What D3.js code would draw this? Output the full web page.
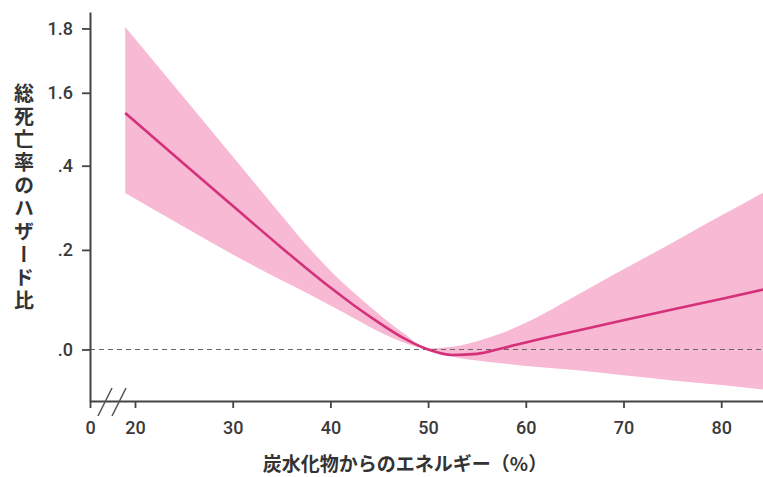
<!DOCTYPE html>
<html>
<head>
<meta charset="utf-8">
<script src="https://cdn.jsdelivr.net/npm/d3@7"></script>
<style>
  html, body { margin: 0; padding: 0; background: #fff; }
  svg { display: block; }
  .tick text { font-family: Roboto, "DejaVu Sans", sans-serif; font-weight: 500; font-size: 18px; fill: #3a3a3a; }
  .title { font-family: "Noto Sans CJK JP", sans-serif; font-weight: 700; fill: #333; }
</style>
</head>
<body>
<div id="chart"></div>
<script>
// carbohydrate share of energy (%) and hazard ratio with its band
const carbPct = [19, 25, 30, 35, 37.5, 40, 42.5, 45, 47.5, 50, 52.5, 55, 57.5, 60, 65, 70, 75, 80, 85];
const hr      = [1.542, 1.405, 1.301, 1.205, 1.161, 1.120, 1.083, 1.050, 1.021, 1.000, 0.990, 0.992, 1.002, 1.013, 1.034, 1.055, 1.076, 1.097, 1.119];
const hrUpper = [1.805, 1.586, 1.424, 1.278, 1.212, 1.155, 1.108, 1.066, 1.030, 1.002, 1.005, 1.015, 1.030, 1.050, 1.102, 1.158, 1.216, 1.278, 1.342];
const hrLower = [1.332, 1.252, 1.190, 1.135, 1.110, 1.084, 1.058, 1.033, 1.013, 0.999, 0.987, 0.980, 0.975, 0.970, 0.963, 0.954, 0.945, 0.937, 0.928];

const xTicks = [0, 20, 30, 40, 50, 60, 70, 80];
const yTicks = [1.0, 1.2, 1.4, 1.6, 1.8];
const yTickLabels = [".0", ".2", ".4", "1.6", "1.8"];
const xTitle = "炭水化物からのエネルギー（%）";
const yTitle = "総死亡率のハザード比";

const W = 763, H = 477;
const svg = d3.select('#chart').append('svg').attr('width', W).attr('height', H);

// broken axis: 0..18 squeezed next to the corner, then 18..85 linear (9.77 px per %)
var x = d3.scaleLinear().domain([0, 18, 85]).range([90, 135 - 2 * 9.77, 135 + 65 * 9.77]);
var y = d3.scaleLog().domain([0.91, 1.855]).range([401, 12]);

var rows = carbPct.map((c, i) => ({c: c, hr: hr[i], lo: hrLower[i], hi: hrUpper[i]}));

var band = d3.area()
    .x(d => x(d.c))
    .y0(d => y(d.lo))
    .y1(d => y(d.hi))
    .curve(d3.curveMonotoneX);
svg.append('path').datum(rows).attr('d', band).attr('fill', '#f7b9d4');

// reference line at HR = 1
svg.append('line')
    .attr('x1', 90).attr('x2', W)
    .attr('y1', y(1)).attr('y2', y(1))
    .attr('stroke', '#666').attr('stroke-width', 1.2).attr('stroke-dasharray', '5,4');

var line = d3.line().x(d => x(d.c)).y(d => y(d.hr)).curve(d3.curveMonotoneX);
svg.append('path').datum(rows).attr('d', line)
    .attr('fill', 'none').attr('stroke', '#d5307a').attr('stroke-width', 2.6);

// axes
var xAxis = svg.append('g').attr('transform', 'translate(0,401)')
    .call(d3.axisBottom(x).tickValues(xTicks).tickSize(7).tickSizeOuter(0).tickPadding(13).tickFormat(d3.format('d')));
var yAxis = svg.append('g').attr('transform', 'translate(90,0)')
    .call(d3.axisLeft(y).tickValues(yTicks).tickSize(8).tickSizeOuter(0).tickPadding(9).tickFormat((d, i) => yTickLabels[i]));
[xAxis, yAxis].forEach(g => {
    g.select('.domain').attr('stroke', '#444').attr('stroke-width', 2);
    g.selectAll('.tick line').attr('stroke', '#444').attr('stroke-width', 1.8);
});

// axis break marks
[0, 14].forEach(off => {
    svg.append('line')
        .attr('x1', 98 + off).attr('y1', 416)
        .attr('x2', 112 + off).attr('y2', 388)
        .attr('stroke', '#555').attr('stroke-width', 1.5);
});

svg.append('text').attr('class', 'title')
    .attr('x', 405).attr('y', 471)
    .attr('text-anchor', 'middle')
    .style('font-size', '19px')
    .text(xTitle);

svg.append('text').attr('class', 'title')
    .attr('x', 24).attr('y', 83)
    .style('writing-mode', 'vertical-rl')
    .style('font-size', '20px')
    .style('letter-spacing', '3px')
    .text(yTitle);
</script>
</body>
</html>
